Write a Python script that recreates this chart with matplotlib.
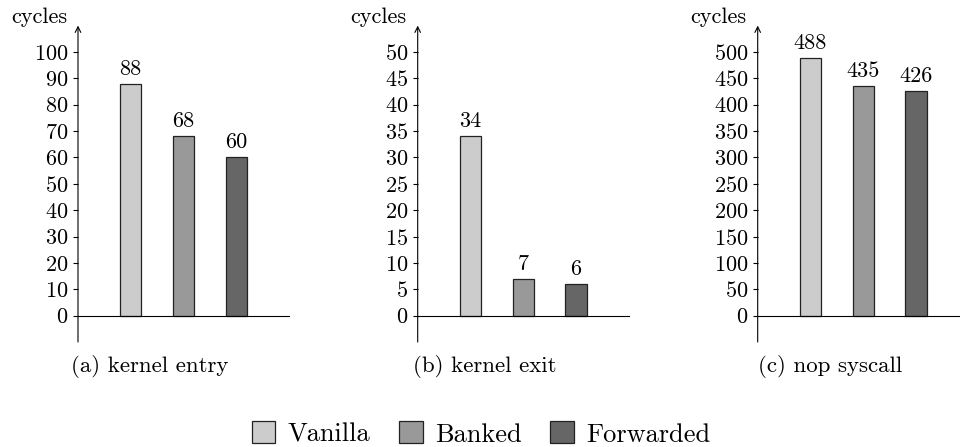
import numpy as np
import matplotlib
matplotlib.use('Agg')
import matplotlib.pyplot as plt

plt.rcParams['font.family'] = ['cmr10', 'DejaVu Serif']
plt.rcParams['axes.formatter.use_mathtext'] = True

variants = ['Vanilla', 'Banked', 'Forwarded']
colors = ['#cccccc', '#999999', '#666666']
panels = ['(a) kernel entry', '(b) kernel exit', '(c) nop syscall']
entry = [88, 68, 60]
exit_ = [34, 7, 6]
nop = [488, 435, 426]
values = [entry, exit_, nop]
yticks = [np.arange(0, 101, 10), np.arange(0, 51, 5), np.arange(0, 501, 50)]
ylims = [(-10, 110), (-5, 55), (-50, 550)]

W, H = 960, 447
fig = plt.figure(figsize=(W / 100, H / 100), dpi=100)

lefts = [78, 417.7, 757.7]
cap_x = [149.5, 485, 830]
fs = 16
for i in range(3):
    ax = fig.add_axes([lefts[i] / W, 105 / H, 211 / W, 316.4 / H])
    x = np.arange(1, 4)
    ax.bar(x, values[i], width=0.4, color=colors, edgecolor='#222222', lw=0.9, zorder=2)
    for xi, v in zip(x, values[i]):
        ax.annotate(str(v), xy=(xi, v), xytext=(0, 6.5), textcoords='offset points',
                    ha='center', va='baseline', fontsize=fs)
    ax.set_xlim(0, 4)
    ax.set_ylim(*ylims[i])
    ax.set_yticks(yticks[i])
    ax.set_xticks([])
    ax.spines['top'].set_visible(False)
    ax.spines['right'].set_visible(False)
    ax.spines['left'].set_visible(False)
    ax.spines['bottom'].set_position(('data', 0))
    ax.spines['bottom'].set_linewidth(0.8)
    ax.tick_params(axis='y', direction='out', length=3.8, width=0.8, pad=3, labelsize=fs)
    ax.annotate('', xy=(0, 1), xytext=(0, 0), xycoords='axes fraction',
                arrowprops=dict(arrowstyle='->', lw=0.8, shrinkA=0, shrinkB=0, color='black'))
    ax.annotate('cycles', xy=(0, 1), xycoords='axes fraction', xytext=(-8, 2),
                textcoords='offset points', ha='right', va='baseline', fontsize=fs)
    fig.text(cap_x[i] / W, 1 - 367 / H, panels[i], ha='center', va='center', fontsize=16.5)

handles = [plt.Rectangle((0, 0), 1, 1, facecolor=c, edgecolor='#222222', lw=0.9) for c in colors]
fig.legend(handles, variants, loc='center', bbox_to_anchor=(481 / W, 1 - 434 / H), ncol=3,
           frameon=False, fontsize=19, handlelength=0.9, handleheight=0.9,
           handletextpad=0.45, columnspacing=1.1, borderaxespad=0, borderpad=0)

fig.savefig('out.png', dpi=100)
